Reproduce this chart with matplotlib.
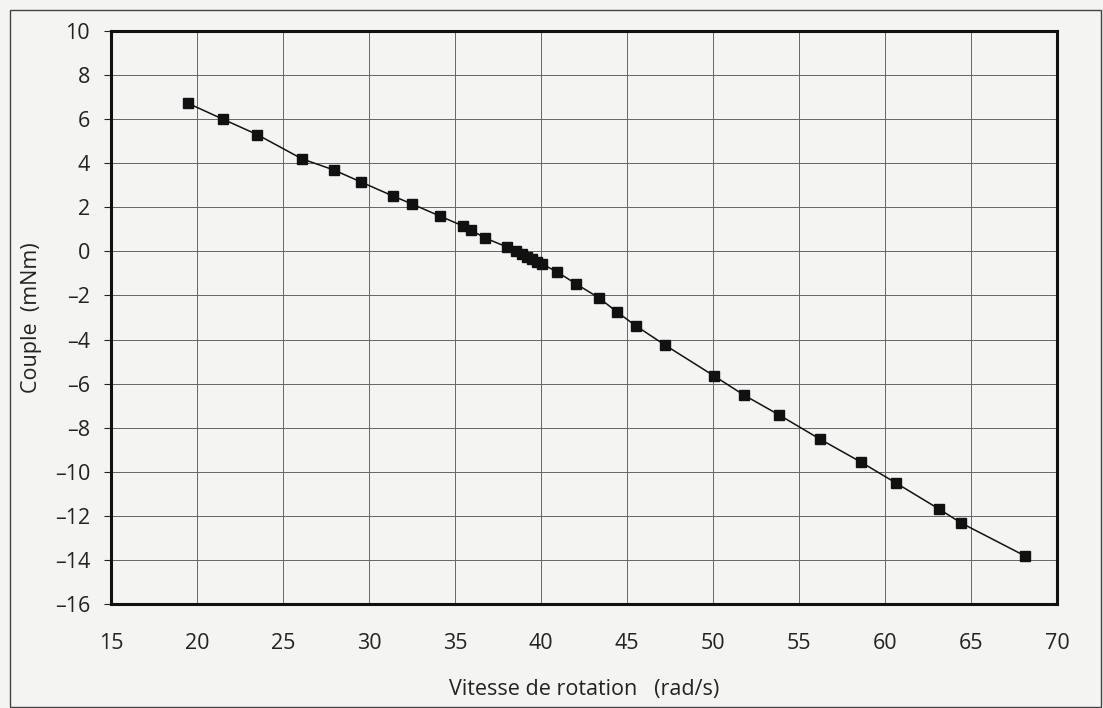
import matplotlib
matplotlib.use("Agg")
import matplotlib.pyplot as plt
from matplotlib.patches import Rectangle

plt.rcParams['font.family'] = ['Open Sans', 'DejaVu Sans']

vitesse = [19.45, 21.5, 23.5, 26.1, 27.97, 29.53, 31.4, 32.5, 34.1, 35.47, 35.93,
           36.74, 38.02, 38.55, 38.9, 39.19, 39.48, 39.77, 40.06, 40.93, 42.05,
           43.37, 44.42, 45.52, 47.21, 50.06, 51.8, 53.84, 56.2, 58.6, 60.64,
           63.14, 64.42, 68.14]
couple = [6.73, 6.0, 5.3, 4.2, 3.69, 3.15, 2.51, 2.15, 1.61, 1.15, 0.97,
          0.61, 0.2, 0.02, -0.12, -0.25, -0.34, -0.48, -0.57, -0.93, -1.48,
          -2.11, -2.75, -3.38, -4.25, -5.65, -6.52, -7.42, -8.51, -9.56, -10.51,
          -11.69, -12.32, -13.82]
xticks = list(range(15, 71, 5))
yticks = list(range(-16, 11, 2))

bg = '#f4f4f2'
fig = plt.figure(figsize=(11.03, 7.08), dpi=100, facecolor=bg)
ax = fig.add_axes([111/1103, 1-604/708, (1057-111)/1103, (604-31)/708])
ax.set_facecolor(bg)

ax.plot(vitesse, couple, color='#111111', lw=1.1, marker='s', ms=7.2,
        mfc='#111111', mec='#111111', zorder=3)

ax.set_xlim(15, 70)
ax.set_ylim(-16, 10)
ax.set_xticks(xticks)
ax.set_yticks(yticks)
ax.set_xticklabels([str(v) for v in xticks])
ax.set_yticklabels([str(v).replace('-', '\u2013') for v in yticks])
ax.grid(True, color='#666666', lw=0.7)
ax.set_axisbelow(True)
for s in ax.spines.values():
    s.set_linewidth(2.2)
    s.set_color('#111111')
ax.tick_params(axis='x', length=0, pad=21, labelsize=15.5, colors='#222222')
ax.tick_params(axis='y', length=5, width=0.8, pad=10, labelsize=15.5, colors='#222222')

ax.set_xlabel('Vitesse de rotation   (rad/s)', fontsize=15.5, color='#222222', labelpad=18)
ax.set_ylabel('Couple  (mNm)', fontsize=15.5, color='#222222', labelpad=9)

fig.patches.append(Rectangle((10/1103, 1/708), 1091/1103, 697/708, transform=fig.transFigure,
                             fill=False, edgecolor='#444444', lw=1.0))

fig.savefig('out.png', dpi=100, facecolor=bg)
